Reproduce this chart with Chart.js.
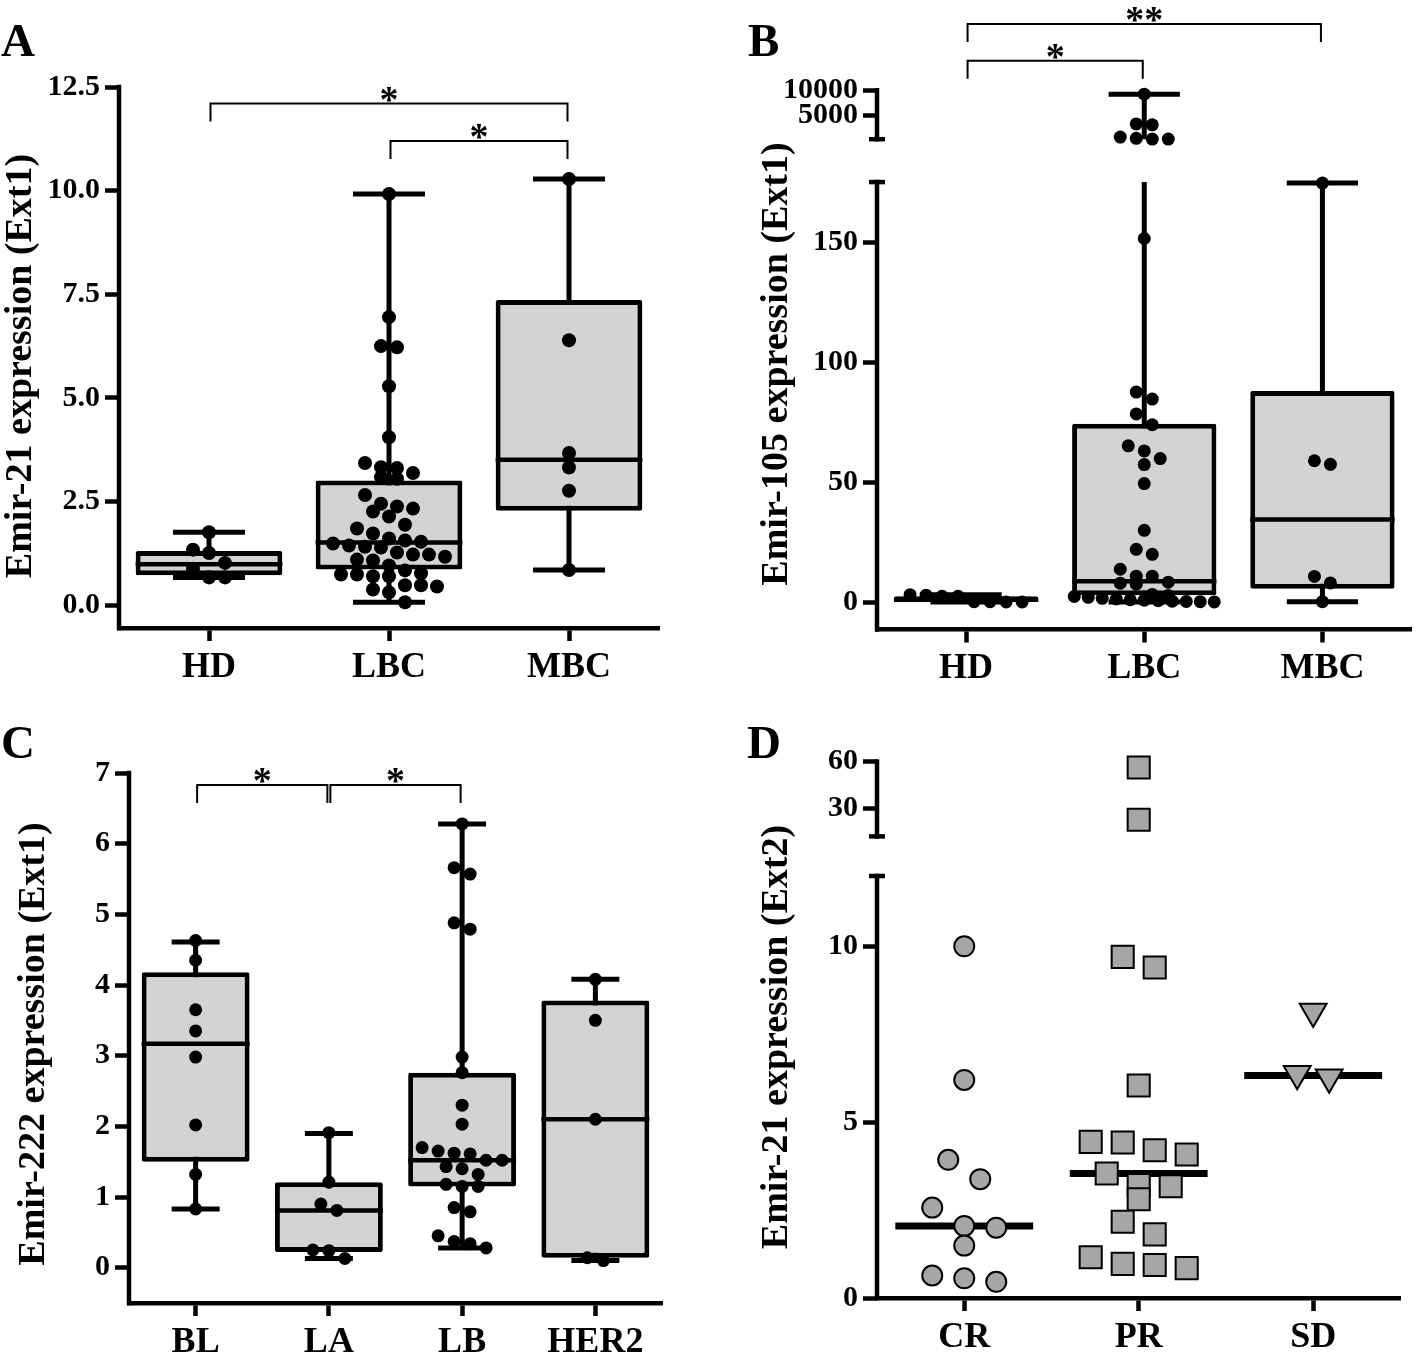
<!DOCTYPE html>
<html>
<head>
<meta charset="utf-8">
<script src="https://cdn.jsdelivr.net/npm/chart.js@4.4.0/dist/chart.umd.min.js"></script>
<style>
  html, body { margin: 0; padding: 0; background: #fff; }
  #wrap { position: relative; width: 1418px; height: 1358px; }
  canvas { position: absolute; }
</style>
</head>
<body>
<div id="wrap">
  <canvas id="chartA" width="709" height="690" style="left:0;top:0"></canvas>
  <canvas id="chartB" width="709" height="690" style="left:709px;top:0"></canvas>
  <canvas id="chartC" width="709" height="668" style="left:0;top:690px"></canvas>
  <canvas id="chartD" width="709" height="668" style="left:709px;top:690px"></canvas>
</div>
<script>
// ---- A: Emir-21 (Ext1) by group ----
const groupsA = ['HD', 'LBC', 'MBC'];
const hdA = [1.76, 1.34, 1.26, 1.02, 0.88, 0.67, 0.67];
const lbcA = [9.92, 6.95, 6.25, 6.22, 5.28, 4.05, 3.43, 3.33, 3.31, 3.19, 3.09, 3.05, 2.66, 2.45, 2.38, 2.33,
  2.26, 2.14, 1.94, 1.85, 1.73, 1.61, 1.56, 1.53, 1.49, 1.44, 1.41, 1.39, 1.27, 1.22, 1.22, 1.17, 1.10, 1.08,
  0.96, 0.84, 0.77, 0.74, 0.74, 0.70, 0.70, 0.48, 0.48, 0.45, 0.38, 0.31, 0.07];
const mbcA = [10.28, 6.39, 3.67, 3.32, 2.76, 0.85];
const minA = [0.67, 0.07, 0.85];
const q1A = [0.72, 0.86, 2.28];
const medA = [0.99, 1.51, 3.51];
const q3A = [1.31, 3.01, 7.36];
const maxA = [1.76, 9.92, 10.28];
const ticksA = [0, 2.5, 5, 7.5, 10, 12.5];
const sigFromA = [0, 1], sigToA = [2, 2], sigLevelA = [12.1, 11.2], sigTextA = ['*', '*'];

// ---- B: Emir-105 (Ext1) by group, broken axis ----
const groupsB = ['HD', 'LBC', 'MBC'];
const hdB = [2.9, 2.5, 0.2, 0.1, 0.1, 0.2, 2.5, 3.1];
const lbcB = [9220, 3240, 3060, 600, 350, 200, 200, 151.5, 87.5, 84.6, 78.4, 73.9, 65.1, 63.0, 59.8, 57.3, 49.4,
  29.9, 22.0, 19.9, 13.7, 10.8, 10.8, 8.3, 7.9, 7.5, 3.2, 2.8, 2.4, 2.0, 1.6, 1.3, 1.0, 0.8, 0.6, 0.4, 0.3, 0.2, 0.1];
const mbcB = [174.6, 58.9, 57.4, 10.7, 8.0, 0.2];
const minB = [0.1, 0.1, 0.2];
const q1B = [0.2, 2.9, 5.6];
const medB = [1.0, 8.7, 34.4];
const q3B = [2.5, 74.3, 88.0];
const maxB = [3.1, 9220, 174.6];
const ticksBLow = [0, 50, 100, 150];
const ticksBHigh = [5000, 10000];
const breakB = 175;
const sigFromB = [0, 0], sigToB = [1, 2], sigLevelB = [15900, 23300], sigTextB = ['*', '**'];

// ---- C: Emir-222 (Ext1) by subtype ----
const groupsC = ['BL', 'LA', 'LB', 'HER2'];
const blC = [4.63, 4.35, 3.65, 3.35, 2.98, 2.02, 1.32, 0.83];
const laC = [1.91, 1.21, 0.90, 0.81, 0.25, 0.24, 0.13];
const lbC = [6.28, 5.66, 5.57, 4.88, 4.79, 2.98, 2.76, 2.30, 2.03, 1.70, 1.65, 1.62, 1.61, 1.52, 1.52, 1.43, 1.40,
  1.32, 1.18, 1.15, 1.15, 0.85, 0.79, 0.45, 0.37, 0.34, 0.28];
const her2C = [4.08, 3.50, 2.10, 0.14, 0.10];
const minC = [0.83, 0.13, 0.28, 0.10];
const q1C = [1.50, 0.22, 1.15, 0.14];
const medC = [3.17, 0.81, 1.52, 2.10];
const q3C = [4.18, 1.21, 2.76, 3.78];
const maxC = [4.61, 1.90, 6.28, 4.08];
const ticksC = [0, 1, 2, 3, 4, 5, 6, 7];
const sigFromC = [0, 1], sigToC = [1, 2], sigLevelC = [6.83, 6.83], sigTextC = ['*', '*'];

// ---- D: Emir-21 (Ext2) by response, broken axis ----
const groupsD = ['CR', 'PR', 'SD'];
const crD = [10.0, 6.2, 3.93, 3.38, 2.57, 2.05, 2.0, 1.49, 0.64, 0.56, 0.46];
const prD = [56.2, 22.7, 9.7, 9.4, 6.04, 4.44, 4.42, 4.2, 4.08, 3.54, 3.21, 3.18, 2.81, 2.17, 1.81, 1.16, 0.97, 0.94, 0.85];
const sdD = [8.15, 6.38, 6.28];
const medD = [2.05, 3.54, 6.33];
const ticksDLow = [0, 5, 10];
const ticksDHigh = [30, 60];
const breakD = 12;

const SERIF = '"Liberation Serif", "Times New Roman", Times, serif';
const AXIS_W = 4.5;
const BOX_FILL = '#d3d3d3';
const MARK_FILL = '#a6a6a6';
Chart.defaults.font.family = SERIF;
Chart.defaults.color = '#000';

const lineSet = (data, yAxisID, width, order) => ({
  type: 'line', data, yAxisID, borderColor: '#000', borderWidth: width, pointRadius: 0,
  fill: false, order, clip: false, spanGaps: false
});

// segment helper: segs are listed top to bottom
function segOf(segs, v) {
  for (let i = segs.length - 1; i >= 0; i--) if (v <= segs[i].hi) return segs[i];
  return segs[0];
}

function buildDatasets(spec) {
  const segs = spec.segs;
  const bottom = segs[segs.length - 1];
  const ds = [];
  spec.points.forEach((vals, g) => {
    segs.forEach(seg => {
      const own = vals.filter(v => segOf(segs, v) === seg);
      if (!own.length) return;
      ds.push({
        type: 'scatter', yAxisID: seg.id, group: g, values: own,
        data: own.map(v => ({ x: g, y: v })), order: 0, clip: false,
        pointStyle: spec.mark.style[g], pointRotation: spec.mark.rotation[g],
        pointRadius: spec.mark.radius[g], pointHoverRadius: spec.mark.radius[g],
        pointBackgroundColor: spec.mark.fill, pointBorderColor: '#000', pointBorderWidth: spec.mark.border
      });
    });
  });
  if (spec.q1) {
    segs.forEach(seg => {
      const w = [], caps = [];
      spec.min.forEach((lo, g) => {
        const hi = spec.max[g];
        const a = Math.max(lo, seg.lo), b = Math.min(hi, seg.hi);
        if (a < b) w.push({ x: g, y: a }, { x: g, y: b }, { x: g, y: null });
        [lo, hi].forEach(v => {
          if (segOf(segs, v) === seg) caps.push({ x: g - spec.capW, y: v }, { x: g + spec.capW, y: v }, { x: g, y: null });
        });
      });
      ds.push(lineSet(w, seg.id, 5, 4), lineSet(caps, seg.id, 5, 4));
    });
    ds.push({
      type: 'bar', yAxisID: bottom.id, data: spec.q1.map((q, g) => ({ x: g, y: [q, spec.q3[g]] })),
      backgroundColor: BOX_FILL, borderColor: '#000', borderWidth: 5, borderSkipped: false, borderRadius: 2,
      barPercentage: spec.boxW, categoryPercentage: 1, order: 2
    });
  }
  const half = spec.medW / 2;
  ds.push(lineSet(spec.med.flatMap((m, g) => [{ x: g - half, y: m }, { x: g + half, y: m }, { x: g, y: null }]),
    bottom.id, spec.medLine, 1));
  return ds;
}

function panelPlugin(spec) {
  return {
    id: 'panel' + spec.letter.text,
    afterDraw(chart) {
      const { ctx, chartArea } = chart;
      const xs = chart.scales.x;
      const x0 = chartArea.left;
      ctx.save();
      ctx.strokeStyle = '#000';
      ctx.fillStyle = '#000';
      // y axis pieces
      spec.segs.forEach(seg => {
        const s = chart.scales[seg.id];
        ctx.lineWidth = AXIS_W;
        ctx.lineCap = 'square';
        ctx.beginPath();
        ctx.moveTo(x0, s.getPixelForValue(seg.lo));
        ctx.lineTo(x0, s.getPixelForValue(seg.hi));
        ctx.stroke();
        ctx.lineCap = 'butt';
        (seg.caps || []).forEach(v => {
          const y = s.getPixelForValue(v);
          ctx.beginPath();
          ctx.moveTo(x0 - 8, y);
          ctx.lineTo(x0 + 8, y);
          ctx.stroke();
        });
      });
      // significance brackets
      const sAx = chart.scales[spec.segs[0].id];
      ctx.lineWidth = 2;
      ctx.font = 'bold 38px ' + SERIF;
      ctx.textAlign = 'center';
      ctx.textBaseline = 'alphabetic';
      spec.sig.from.forEach((f, k) => {
        const x1 = xs.getPixelForValue(f) + 1.5;
        const x2 = xs.getPixelForValue(spec.sig.to[k]) - 1.5;
        const y = sAx.getPixelForValue(spec.sig.level[k]);
        ctx.beginPath();
        ctx.moveTo(x1, y + 18);
        ctx.lineTo(x1, y);
        ctx.lineTo(x2, y);
        ctx.lineTo(x2, y + 18);
        ctx.stroke();
        ctx.fillText(spec.sig.text[k], (x1 + x2) / 2, y + 8);
      });
      // axis title
      ctx.save();
      ctx.font = 'bold 38px ' + SERIF;
      ctx.translate(spec.title.x, spec.title.y);
      ctx.rotate(-Math.PI / 2);
      ctx.fillText(spec.title.text, 0, 0);
      ctx.restore();
      // panel letter
      ctx.font = 'bold 47px ' + SERIF;
      ctx.textAlign = 'left';
      ctx.fillText(spec.letter.text, spec.letter.x, spec.letter.y);
      ctx.restore();
    }
  };
}

function makeChart(id, spec) {
  const groups = spec.groups;
  const area = spec.area; // chart-area insets inside the canvas
  const scales = {
    x: {
      type: 'linear', position: 'bottom', min: -0.5, max: groups.length - 0.5, bounds: 'data', offset: false,
      afterBuildTicks: s => { s.ticks = groups.map((_, i) => ({ value: i })); },
      afterFit: s => { s.height = area.bottom; s.paddingLeft = 0; s.paddingRight = 0; },
      ticks: { callback: v => groups[Math.round(v)], font: { size: 36, weight: 'bold' }, color: '#000', padding: 5, maxRotation: 0, autoSkip: false },
      grid: { display: true, offset: false, drawOnChartArea: false, drawTicks: true, tickLength: 13, tickWidth: AXIS_W, tickColor: '#000' },
      border: { display: true, width: AXIS_W, color: '#000' }
    }
  };
  // boxes of equal weight are placed in reverse order, so add the bottom piece first
  spec.segs.slice().reverse().forEach(seg => {
    scales[seg.id] = {
      type: 'linear', position: 'left', min: seg.min, max: seg.max, bounds: 'data',
      stack: spec.segs.length > 1 ? 'ys' : undefined, stackWeight: seg.weight || 1,
      afterBuildTicks: s => { s.ticks = seg.ticks.map(v => ({ value: v })); },
      afterFit: s => { s.width = area.left; s.paddingTop = 0; s.paddingBottom = 0; },
      ticks: { callback: seg.fmt || (v => String(v)), font: { size: 30, weight: 'bold' }, color: '#000', padding: 5, autoSkip: false },
      grid: { display: true, drawOnChartArea: false, drawTicks: true, tickLength: 14, tickWidth: AXIS_W, tickColor: '#000' },
      border: { display: false }
    };
  });
  const chart = new Chart(document.getElementById(id), {
    type: 'bar',
    data: { datasets: buildDatasets(spec) },
    options: {
      responsive: false, animation: false, devicePixelRatio: 1,
      layout: { padding: { left: 0, bottom: 0, top: area.top, right: area.right } },
      plugins: { legend: { display: false }, tooltip: { enabled: false } },
      events: [],
      scales
    },
    plugins: [panelPlugin(spec)]
  });
  // spread the dots sideways in rows, the way the scatter dot plot does
  const xs = chart.scales.x;
  const unit = xs.getPixelForValue(1) - xs.getPixelForValue(0);
  chart.data.datasets.forEach(ds => {
    if (!ds.values) return;
    const ys = chart.scales[ds.yAxisID];
    const items = ds.values.map(v => ({ v, py: ys.getPixelForValue(v) })).sort((a, b) => a.py - b.py);
    const rows = [];
    items.forEach(it => {
      const row = rows[rows.length - 1];
      if (row && it.py - row[0].py < spec.swarm.rowH) row.push(it); else rows.push([it]);
    });
    const out = [];
    rows.forEach(row => {
      const n = row.length;
      const step = n > 1 ? Math.min(spec.swarm.step, spec.swarm.maxW / (n - 1)) : 0;
      row.forEach((it, k) => out.push({ x: ds.group + (k - (n - 1) / 2) * step / unit, y: it.v }));
    });
    ds.data = out;
  });
  chart.update('none');
  return chart;
}

const dots = (n, r) => ({ style: Array(n).fill('circle'), rotation: Array(n).fill(0), radius: Array(n).fill(r), fill: '#000', border: 0 });

makeChart('chartA', {
  groups: groupsA, points: [hdA, lbcA, mbcA],
  min: minA, q1: q1A, med: medA, q3: q3A, max: maxA,
  boxW: 0.815, capW: 0.2, medW: 0.815, medLine: 4.5,
  mark: dots(3, 7),
  segs: [{ id: 'y', min: -0.55, max: 12.5, lo: -0.55, hi: 12.5, ticks: ticksA, fmt: v => v.toFixed(1) }],
  sig: { from: sigFromA, to: sigToA, level: sigLevelA, text: sigTextA },
  area: { left: 119, right: 50, top: 87, bottom: 62 },
  swarm: { rowH: 14, step: 16, maxW: 140 },
  title: { text: 'Emir-21 expression (Ext1)', x: 31, y: 366 },
  letter: { text: 'A', x: 1, y: 56 }
});

makeChart('chartB', {
  groups: groupsB, points: [hdB, lbcB, mbcB],
  min: minB, q1: q1B, med: medB, q3: q3B, max: maxB,
  boxW: 0.81, capW: 0.2, medW: 0.81, medLine: 4.5,
  mark: dots(3, 6.5),
  segs: [
    { id: 'yHigh', min: -8425, max: 26800, lo: breakB, hi: 10000, ticks: ticksBHigh, caps: [breakB], weight: 176 },
    { id: 'yLow', min: -11.4, max: breakB, lo: -11.4, hi: breakB, ticks: ticksBLow, caps: [breakB], weight: 448.5 }
  ],
  sig: { from: sigFromB, to: sigToB, level: sigLevelB, text: sigTextB },
  area: { left: 168, right: 4, top: 5, bottom: 60.5 },
  swarm: { rowH: 13, step: 16, maxW: 140 },
  title: { text: 'Emir-105 expression (Ext1)', x: 78, y: 364 },
  letter: { text: 'B', x: 39, y: 56 }
});

makeChart('chartC', {
  groups: groupsC, points: [blC, laC, lbC, her2C],
  min: minC, q1: q1C, med: medC, q3: q3C, max: maxC,
  boxW: 0.81, capW: 0.18, medW: 0.81, medLine: 4.5,
  mark: dots(4, 6.5),
  segs: [{ id: 'y', min: -0.5, max: 7, lo: -0.5, hi: 7, ticks: ticksC }],
  sig: { from: sigFromC, to: sigToC, level: sigLevelC, text: sigTextC },
  area: { left: 129, right: 47, top: 83, bottom: 55 },
  swarm: { rowH: 13, step: 16, maxW: 104 },
  title: { text: 'Emir-222 expression (Ext1)', x: 44, y: 354 },
  letter: { text: 'C', x: 1, y: 68 }
});

makeChart('chartD', {
  groups: groupsD, points: [crD, prD, sdD],
  med: medD, medW: 0.79, medLine: 7,
  mark: { style: ['circle', 'rect', 'triangle'], rotation: [0, 0, 180], radius: [10, 15.6, 15.5], fill: MARK_FILL, border: 2 },
  segs: [
    { id: 'yHigh', min: -13.4, max: 70.6, lo: breakD, hi: 60, ticks: ticksDHigh, caps: [breakD], weight: 131 },
    { id: 'yLow', min: 0, max: breakD, lo: 0, hi: breakD, ticks: ticksDLow, caps: [breakD], weight: 422 }
  ],
  sig: { from: [], to: [], level: [], text: [] },
  area: { left: 168, right: 4, top: 55, bottom: 60 },
  swarm: { rowH: 22, step: 32, maxW: 150 },
  title: { text: 'Emir-21 expression (Ext2)', x: 78, y: 347 },
  letter: { text: 'D', x: 38, y: 68 }
});
</script>
</body>
</html>
